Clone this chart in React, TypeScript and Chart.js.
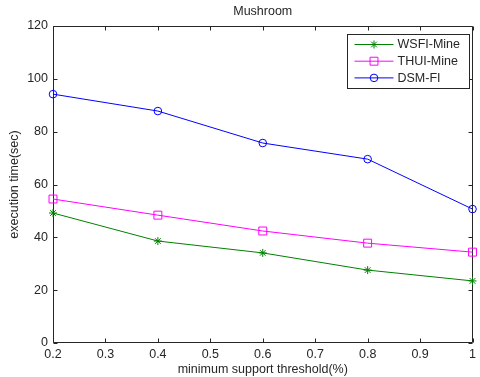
import React, { useEffect, useRef } from "react";
import { Chart, registerables } from "chart.js";
import { drawPoint } from "chart.js/helpers";

Chart.register(...registerables);

const chartTitle = "Mushroom";
const xAxisTitle = "minimum support threshold(%)";
const yAxisTitle = "execution time(sec)";

const thresholds = [0.2, 0.4, 0.6, 0.8, 1.0];
const seriesNames = ["WSFI-Mine", "THUI-Mine", "DSM-FI"];
const wsfiMine = [49.2, 38.6, 34.1, 27.6, 23.5];
const thuiMine = [54.5, 48.4, 42.4, 37.8, 34.4];
const dsmFi = [94.2, 87.8, 75.7, 69.6, 50.7];

const xTickValues = [0.2, 0.3, 0.4, 0.5, 0.6, 0.7, 0.8, 0.9, 1.0];
const xTickLabels = ["0.2", "0.3", "0.4", "0.5", "0.6", "0.7", "0.8", "0.9", "1"];
const yTickValues = [0, 20, 40, 60, 80, 100, 120];
const yTickLabels = ["0", "20", "40", "60", "80", "100", "120"];

const FONT = "'Liberation Sans', Arial, sans-serif";
const AXIS_COLOR = "#262626";
const TEXT_COLOR = "#262626";

const seriesStyles = [
  { color: "rgb(0,128,0)", pointStyle: "star", radius: 4 },
  { color: "rgb(255,0,255)", pointStyle: "rect", radius: 5.6 },
  { color: "rgb(0,0,255)", pointStyle: "circle", radius: 3.8 },
];

const framePlugin = {
  id: "matlabFrame",
  beforeDatasetsDraw(chart: any) {
    const { ctx, chartArea } = chart;
    const xs = chart.scales.x;
    const ys = chart.scales.y;
    const l = Math.round(chartArea.left) + 0.5;
    const r = Math.round(chartArea.right) - 0.5;
    const t = Math.round(chartArea.top) + 0.5;
    const b = Math.round(chartArea.bottom) - 0.5;
    ctx.save();
    ctx.strokeStyle = AXIS_COLOR;
    ctx.lineWidth = 1;
    ctx.beginPath();
    ctx.rect(l, t, r - l, b - t);
    const tl = 4;
    xTickValues.forEach((v) => {
      const px = Math.round(xs.getPixelForValue(v)) + 0.5;
      ctx.moveTo(px, b);
      ctx.lineTo(px, b - tl);
      ctx.moveTo(px, t);
      ctx.lineTo(px, t + tl);
    });
    yTickValues.forEach((v) => {
      const py = Math.round(ys.getPixelForValue(v)) + 0.5;
      ctx.moveTo(l, py);
      ctx.lineTo(l + tl, py);
      ctx.moveTo(r, py);
      ctx.lineTo(r - tl, py);
    });
    ctx.stroke();

    // titles
    ctx.fillStyle = TEXT_COLOR;
    ctx.font = `12.5px ${FONT}`;
    ctx.textAlign = "center";
    ctx.textBaseline = "middle";
    const cx = (chartArea.left + chartArea.right) / 2;
    ctx.fillText(chartTitle, cx, 12);
    ctx.fillText(xAxisTitle, cx, 370);
    ctx.save();
    ctx.translate(15, (chartArea.top + chartArea.bottom) / 2);
    ctx.rotate(-Math.PI / 2);
    ctx.fillText(yAxisTitle, 0, 0);
    ctx.restore();
    ctx.restore();
  },
};

const legendPlugin = {
  id: "matlabLegend",
  afterDraw(chart: any) {
    const { ctx, chartArea } = chart;
    const boxR = Math.round(chartArea.right) - 3.5;
    const boxW = 122;
    const boxL = boxR - boxW;
    const boxT = Math.round(chartArea.top) + 8.5;
    const boxH = 54;
    ctx.save();
    ctx.fillStyle = "#ffffff";
    ctx.fillRect(boxL, boxT, boxW, boxH);
    ctx.strokeStyle = AXIS_COLOR;
    ctx.lineWidth = 1;
    ctx.strokeRect(boxL, boxT, boxW, boxH);
    ctx.font = `12.5px ${FONT}`;
    ctx.textAlign = "left";
    ctx.textBaseline = "middle";
    chart.data.datasets.forEach((ds: any, i: number) => {
      const y = boxT + 10 + i * 16.7;
      const x0 = boxL + 7;
      const x1 = boxL + 46;
      ctx.strokeStyle = ds.borderColor;
      ctx.lineWidth = 1;
      ctx.beginPath();
      ctx.moveTo(x0, y);
      ctx.lineTo(x1, y);
      ctx.stroke();
      ctx.fillStyle = "rgba(0,0,0,0)";
      ctx.strokeStyle = ds.borderColor;
      drawPoint(
        ctx,
        {
          pointStyle: ds.pointStyle,
          radius: ds.pointRadius,
          rotation: 0,
          borderWidth: 1,
        },
        (x0 + x1) / 2,
        y
      );
      ctx.fillStyle = TEXT_COLOR;
      ctx.fillText(ds.label, boxL + 50, y + 0.5);
    });
    ctx.restore();
  },
};

export default function App() {
  const canvasRef = useRef<HTMLCanvasElement | null>(null);

  useEffect(() => {
    document.body.style.margin = "0";
    const canvas = canvasRef.current;
    if (!canvas) return;
    const seriesValues = [wsfiMine, thuiMine, dsmFi];
    const datasets = seriesNames.map((name, i) => ({
      label: name,
      data: thresholds.map((x, j) => ({ x, y: seriesValues[i][j] })),
      borderColor: seriesStyles[i].color,
      backgroundColor: "transparent",
      pointBorderColor: seriesStyles[i].color,
      pointBackgroundColor: "transparent",
      pointStyle: seriesStyles[i].pointStyle,
      pointRadius: seriesStyles[i].radius,
      pointBorderWidth: 1,
      borderWidth: 1,
      tension: 0,
      fill: false,
      clip: false,
    }));

    const chart = new Chart(canvas, {
      type: "line",
      data: { datasets } as any,
      options: {
        responsive: false,
        animation: false,
        devicePixelRatio: 1,
        layout: { padding: { left: 0, right: 4, top: 26, bottom: 0 } },
        plugins: {
          legend: { display: false },
          title: { display: false },
          tooltip: { enabled: false },
        },
        scales: {
          x: {
            type: "linear",
            min: 0.2,
            max: 1.0,
            grid: { display: false, drawTicks: false },
            border: { display: false },
            afterBuildTicks: (s: any) => {
              s.ticks = xTickValues.map((v) => ({ value: v }));
            },
            afterFit: (s: any) => {
              s.height = 34;
            },
            ticks: {
              autoSkip: false,
              maxRotation: 0,
              padding: 4,
              color: TEXT_COLOR,
              font: { family: FONT, size: 12.5 },
              callback: (v: any) => {
                const i = xTickValues.findIndex((t) => Math.abs(t - Number(v)) < 1e-9);
                return i >= 0 ? xTickLabels[i] : "";
              },
            },
          },
          y: {
            type: "linear",
            min: 0,
            max: 120,
            grid: { display: false, drawTicks: false },
            border: { display: false },
            afterBuildTicks: (s: any) => {
              s.ticks = yTickValues.map((v) => ({ value: v }));
            },
            afterFit: (s: any) => {
              s.width = 53;
            },
            ticks: {
              padding: 5,
              color: TEXT_COLOR,
              font: { family: FONT, size: 12.5 },
              callback: (v: any) => {
                const i = yTickValues.indexOf(Number(v));
                return i >= 0 ? yTickLabels[i] : "";
              },
            },
          },
        },
      } as any,
      plugins: [framePlugin, legendPlugin],
    });
    return () => chart.destroy();
  }, []);

  return (
    <canvas
      ref={canvasRef}
      width={480}
      height={377}
      style={{ display: "block", width: 480, height: 377, background: "#fff" }}
    />
  );
}
